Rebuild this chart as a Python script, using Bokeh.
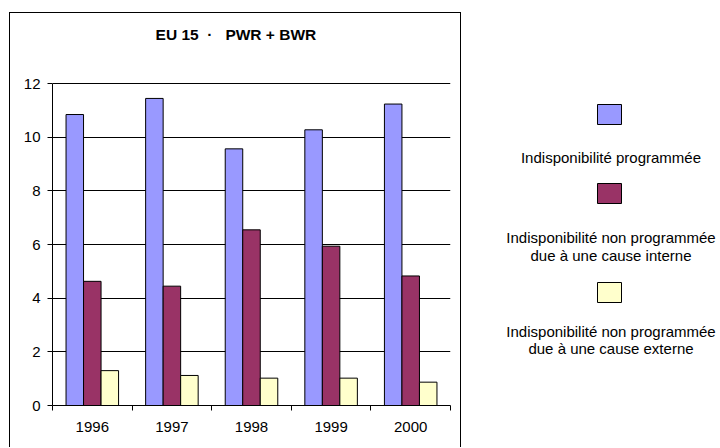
from bokeh.plotting import figure
from bokeh.models import FixedTicker, ColumnDataSource, Range1d
from bokeh.layouts import row
from bokeh.transform import dodge
from bokeh.core.properties import value
from bokeh.embed import file_html
from bokeh.resources import INLINE

# ---- data ----
years = ["1996", "1997", "1998", "1999", "2000"]
programmee = [10.85, 11.45, 9.57, 10.28, 11.24]
non_prog_interne = [4.63, 4.45, 6.55, 5.94, 4.83]
non_prog_externe = [1.30, 1.12, 1.02, 1.02, 0.87]
series_names = [
    ["Indisponibilité programmée"],
    ["Indisponibilité non programmée", "due à une cause interne"],
    ["Indisponibilité non programmée", "due à une cause externe"],
]
y_ticks = [0, 2, 4, 6, 8, 10, 12]
title_text = "EU 15\u00a0\u00a0·\u00a0\u00a0 PWR + BWR"

colors = ["#9999FF", "#993366", "#FFFFCC"]
FONT = "Liberation Sans"

xs = [i + 1 for i in range(len(years))]
src = ColumnDataSource(dict(x=xs, a=programmee, b=non_prog_interne, c=non_prog_externe))

# ---- page layout (pixels) ----
BOX_LEFT, BOX_TOP, BOX_RIGHT = 9, 12, 461
PLOT_L, PLOT_R = 52, 448          # value axis region
Y0_PX, Y12_PX = 404, 83           # where 0 and 12 sit on the page
FRAME_TOP = BOX_TOP + 2           # frame reaches up to the box top (title lives inside)
BOT_B = 448 - 1 - Y0_PX
px_per_unit = (Y0_PX - Y12_PX) / 12.0
y_top_val = (Y0_PX - FRAME_TOP) / px_per_unit
FRAME_H = Y0_PX - FRAME_TOP
n = len(years)
px_per_cat = (PLOT_R - PLOT_L) / n

def to_dx(px):
    return 0.5 + (px - PLOT_L) / px_per_cat

def to_dy(py):
    return (Y0_PX - py) / px_per_unit

# ---- chart (inside bordered box) ----
p = figure(x_range=Range1d(0.5, n + 0.5), y_range=Range1d(0, y_top_val),
           frame_width=PLOT_R - PLOT_L, frame_height=FRAME_H,
           min_border_left=PLOT_L - BOX_LEFT - 1, min_border_right=BOX_RIGHT - PLOT_R - 1,
           min_border_top=FRAME_TOP - BOX_TOP - 1, min_border_bottom=BOT_B,
           output_backend="svg", toolbar_location=None)
p.margin = (BOX_TOP, 0, 0, BOX_LEFT)
p.styles = {"border-left": "1px solid black", "border-top": "1px solid black",
            "border-right": "1px solid black"}
p.outline_line_color = None

bw = 0.22
for col, off, c in zip(["a", "b", "c"], [-bw, 0, bw], colors):
    p.vbar(x=dodge("x", off, range=p.x_range), top=col, width=bw, bottom=0,
           source=src, fill_color=c, line_color="black", line_width=1)

# title
p.text(x=[to_dx(234.5)], y=[to_dy(33.5)], text=[title_text], text_align="center",
       text_baseline="middle", text_font=value(FONT), text_font_style="bold",
       text_font_size="15.5px", text_color="black")

p.xaxis.ticker = FixedTicker(ticks=xs, minor_ticks=[x - 0.5 for x in xs] + [xs[-1] + 0.5])
p.xaxis.major_label_overrides = {x: y for x, y in zip(xs, years)}
p.xaxis.major_tick_out = 0
p.xaxis.major_tick_in = 0
p.xaxis.minor_tick_out = 5
p.xaxis.minor_tick_in = 0
p.xaxis.major_label_standoff = 11
p.yaxis.ticker = FixedTicker(ticks=y_ticks)
p.yaxis.bounds = (0, 12)
p.yaxis.major_tick_out = 5
p.yaxis.major_tick_in = 0
p.yaxis.minor_tick_out = 0
p.yaxis.minor_tick_in = 0
p.yaxis.major_label_standoff = 7
for ax in (p.xaxis, p.yaxis):
    ax.axis_line_color = "black"
    ax.major_tick_line_color = "black"
    ax.minor_tick_line_color = "black"
    ax.major_label_text_font = FONT
    ax.major_label_text_font_size = "15px"
    ax.major_label_text_color = "black"
p.xgrid.grid_line_color = None
p.ygrid.grid_line_color = "black"
p.ygrid.grid_line_width = 1

# ---- legend panel (frame lines up with the chart frame) ----
LX0, LX1 = BOX_RIGHT, 720
lg = figure(frame_width=LX1 - LX0, frame_height=FRAME_H,
            x_range=Range1d(LX0, LX1), y_range=Range1d(Y0_PX, FRAME_TOP),
            x_axis_location=None, y_axis_location=None,
            min_border_left=0, min_border_right=0,
            min_border_top=FRAME_TOP - BOX_TOP - 1, min_border_bottom=BOT_B,
            output_backend="svg", toolbar_location=None)
lg.margin = (BOX_TOP + 1, 0, 0, 0)
lg.outline_line_color = None
lg.grid.grid_line_color = None

key_cx = 609
key_w, key_h = 24, 20
key_tops = [104, 183, 282]
line_centres = [[156.5], [237, 254.5], [331, 348]]
lg.quad(left=[key_cx - key_w / 2] * 3, right=[key_cx + key_w / 2] * 3,
        top=key_tops, bottom=[t + key_h for t in key_tops],
        fill_color=colors, line_color="black", line_width=1)
tx, ty, tt = [], [], []
for lines, cys in zip(series_names, line_centres):
    for ln, cyy in zip(lines, cys):
        tx.append(key_cx + 1.5)
        ty.append(cyy)
        tt.append(ln)
lg.text(x=tx, y=ty, text=tt, text_align="center", text_baseline="middle",
        text_font=value(FONT), text_font_size="15px", text_color="black")

layout = row(p, lg)
open("out.html", "w").write(file_html(layout, INLINE))
